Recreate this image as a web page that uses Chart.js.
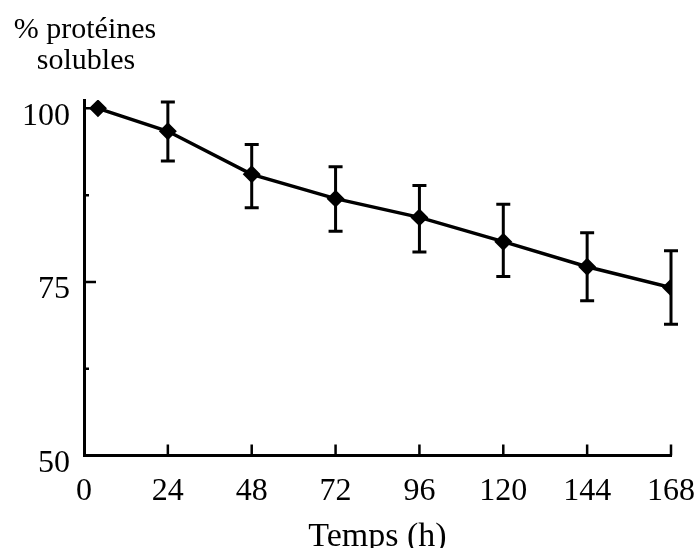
<!DOCTYPE html>
<html>
<head>
<meta charset="utf-8">
<script src="https://cdn.jsdelivr.net/npm/chart.js@4"></script>
<style>
body{margin:0;background:#fff;}
</style>
</head>
<body>
<canvas id="c" width="694" height="548"></canvas>
<script>
// temps (h) et % de protéines solubles
const hours=[4,24,48,72,96,120,144,168];
const mean=[100,96.7,90.5,87.0,84.3,80.8,77.2,74.2];
const upper=[null,100.9,94.8,91.6,88.9,86.2,82.1,79.5];
const lower=[null,92.4,85.7,82.3,79.3,75.8,72.3,68.9];
const xTicks=[0,24,48,72,96,120,144,168];
const yTicks=[50,62.5,75,87.5,100];
const yLabels=[50,75,100];

const serif="'Liberation Serif','DejaVu Serif',serif";

const errorBars={
id:"errorBars",
afterDatasetsDraw(chart){
const ctx=chart.ctx,x=chart.scales.x,y=chart.scales.y;
ctx.save();
ctx.strokeStyle="#000";
ctx.lineWidth=3;
hours.forEach((h,i)=>{
if(upper[i]==null)return;
const px=x.getPixelForValue(h);
const top=y.getPixelForValue(upper[i]);
const bot=y.getPixelForValue(lower[i]);
ctx.beginPath();
ctx.moveTo(px,top);ctx.lineTo(px,bot);
ctx.moveTo(px-7,top);ctx.lineTo(px+7,top);
ctx.moveTo(px-7,bot);ctx.lineTo(px+7,bot);
ctx.stroke();
});
ctx.restore();
}
};

// petits traits vers l'intérieur + titre de l'axe y
const axisDeco={
id:"axisDeco",
afterDraw(chart){
const ctx=chart.ctx,x=chart.scales.x,y=chart.scales.y,a=chart.chartArea;
ctx.save();
ctx.strokeStyle="#000";
ctx.lineWidth=2.5;
ctx.beginPath();
yTicks.forEach(v=>{
if(v==50)return;
const py=y.getPixelForValue(v);
const len=yLabels.includes(v)?12:5;
ctx.moveTo(a.left,py);ctx.lineTo(a.left+len,py);
});
xTicks.forEach(v=>{
if(v==0)return;
const px=x.getPixelForValue(v);
ctx.moveTo(px,a.bottom);ctx.lineTo(px,a.bottom-11);
});
ctx.stroke();
ctx.fillStyle="#000";
ctx.font="30px "+serif;
ctx.textAlign="center";
ctx.textBaseline="alphabetic";
ctx.fillText("% protéines",a.left+1,38);
ctx.fillText("solubles",a.left+2,69);
ctx.restore();
}
};

new Chart(document.getElementById("c"),{
type:"line",
data:{datasets:[{
data:hours.map((h,i)=>({x:h,y:mean[i]})),
borderColor:"#000",
backgroundColor:"#000",
borderWidth:3.5,
pointStyle:"rectRot",
pointRadius:6.5,
pointHoverRadius:6.5,
tension:0
}]},
options:{
responsive:false,
animation:false,
layout:{padding:{top:100,left:22,right:0,bottom:1}},
plugins:{legend:{display:false},tooltip:{enabled:false}},
scales:{
x:{
type:"linear",min:0,max:168,
afterBuildTicks:s=>{s.ticks=xTicks.map(v=>({value:v}));},
afterFit:s=>{s.paddingRight=23;},
grid:{display:false,drawTicks:false,tickLength:0},
border:{display:true,color:"#000",width:3},
ticks:{color:"#000",font:{family:serif,size:32,lineHeight:0.75},padding:24,maxRotation:0,autoSkip:false},
title:{display:true,text:"Temps (h)",color:"#000",font:{family:serif,size:34,lineHeight:0.57},padding:{top:0,bottom:0}}
},
y:{
type:"linear",min:50,max:101.2,
afterBuildTicks:s=>{s.ticks=yTicks.map(v=>({value:v}));},
afterFit:s=>{s.width=62;},
grid:{display:false,drawTicks:false,tickLength:0},
border:{display:true,color:"#000",width:3},
ticks:{color:"#000",font:{family:serif,size:32},padding:14,labelOffset:8,
callback:v=>yLabels.includes(v)?String(v):""}
}
}
},
plugins:[errorBars,axisDeco]
});
</script>
</body>
</html>
